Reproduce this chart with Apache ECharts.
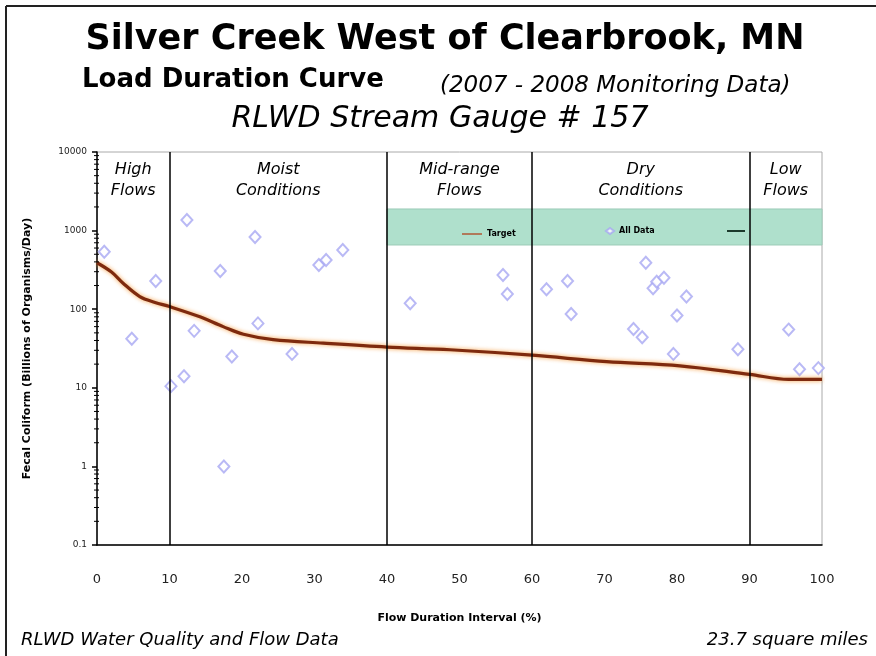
<!DOCTYPE html>
<html>
  <head>
    <meta charset="utf-8">
    <title>Silver Creek West of Clearbrook, MN</title>
    <script src="https://cdn.jsdelivr.net/npm/echarts@6/dist/echarts.min.js"></script>
    <style>
      html, body { margin: 0; padding: 0; background: #fff; }
      #chart { width: 876px; height: 656px; }
    </style>
  </head>
  <body>
    <div id="chart"></div>
    <script>
      // flow duration interval (%) / load (billions of organisms per day)
      var targetX = [0, 2, 3.6, 5.9, 8, 10, 14.2, 17.4, 20.2, 24.3, 31.2, 40, 48.7, 60, 70.3, 80.4, 90, 95.4, 100];
      var targetY = [390, 297, 214, 145, 122, 108, 80, 60, 48, 41, 37, 33, 30.5, 26, 21.5, 19, 14.8, 12.8, 12.8];

      var sampleX = [1.0, 4.8, 8.1, 10.2, 12.4, 12.0, 13.4, 17.0, 17.5, 18.6, 21.8, 22.2, 26.9, 30.6, 31.6, 33.9,
                     43.2, 56.0, 56.6, 62.0, 64.9, 65.4, 74.0, 75.2, 75.7, 76.7, 77.2, 78.2, 79.5, 80.0, 81.3,
                     88.4, 95.4, 96.9, 99.5];
      var sampleY = [537, 42, 229, 10.5, 1365, 14, 53, 307, 1.0, 25, 830, 66, 27, 365, 423, 565,
                     119, 272, 156, 179, 229, 87, 56, 44, 391, 185, 224, 251, 27, 83, 145,
                     31, 55, 17.2, 17.8];

      var zoneNames = ['High\nFlows', 'Moist\nConditions', 'Mid-range\nFlows', 'Dry\nConditions', 'Low\nFlows'];
      var zoneMid = [5, 25, 50, 75, 95];
      var zoneBreaks = [10, 40, 60, 90];
      var yTicks = [0.1, 1, 10, 100, 1000, 10000];
      var minorSteps = [2, 3, 4, 5, 6, 7, 8, 9];

      // minor tick positions on the log axis
      var minorTicks = [];
      yTicks.slice(0, -1).forEach(function (d) {
        minorSteps.forEach(function (s) { minorTicks.push([0, +(d * s).toPrecision(6)]); });
      });

      var chart = echarts.init(document.getElementById('chart'));
      var font = 'DejaVu Sans';
      var legendText = { fontSize: 8, fontWeight: 'bold', color: '#000' };

      var option = {
        animation: false,
        backgroundColor: '#fff',
        textStyle: { fontFamily: font },
        grid: { left: 97, right: 54, top: 152, bottom: 111, show: true, borderColor: '#aaa', borderWidth: 1 },
        legend: [
          { data: [{ name: 'Target', icon: 'rect', itemStyle: { color: '#b07a5a' } }], left: 457, top: 225,
            itemWidth: 20, itemHeight: 2, itemGap: 4, textStyle: legendText },
          { data: ['All Data'], left: 600, top: 222, itemWidth: 8, itemHeight: 6, itemGap: 4, textStyle: legendText },
          { data: [{ name: 'Trend', icon: 'rect' }], left: 722, top: 225, itemWidth: 18, itemHeight: 2,
            formatter: function () { return ''; } }
        ],
        xAxis: {
          type: 'value', min: 0, max: 100, interval: 10,
          name: 'Flow Duration Interval (%)', nameLocation: 'middle', nameGap: 68,
          nameTextStyle: { fontSize: 11, fontWeight: 'bold', color: '#000' },
          axisLine: { lineStyle: { color: '#000', width: 1.5 } },
          axisTick: { show: false },
          axisLabel: { margin: 28, fontSize: 13, color: '#222' },
          splitLine: { show: false }
        },
        yAxis: {
          type: 'log', logBase: 10, min: yTicks[0], max: yTicks[yTicks.length - 1],
          name: 'Fecal Coliform (Billions of Organisms/Day)', nameLocation: 'middle', nameGap: 64,
          nameTextStyle: { fontSize: 11, fontWeight: 'bold', color: '#000' },
          axisLine: { show: true, lineStyle: { color: '#000', width: 1.5 } },
          axisTick: { show: true, length: 5, lineStyle: { color: '#000', width: 1.5 } },
          axisLabel: { fontSize: 9, color: '#222', margin: 10,
            formatter: function (v) { return String(+v.toPrecision(6)); } },
          splitLine: { show: false }
        },
        series: [
          {
            name: 'Target', type: 'line', smooth: 0.35, symbol: 'none', z: 4,
            color: '#8a2a0c',
            lineStyle: { width: 3.2, color: '#7e2a0e', shadowColor: 'rgba(245,150,50,0.9)', shadowBlur: 4 },
            data: targetX.map(function (x, i) { return [x, targetY[i]]; }),
            markArea: {
              silent: true,
              itemStyle: { color: '#afe0cc', borderColor: '#9ccbb8', borderWidth: 1 },
              data: [[{ xAxis: 40, yAxis: 1884 }, { xAxis: 100, yAxis: 656 }]]
            },
            markLine: {
              silent: true, symbol: 'none', label: { show: false },
              lineStyle: { color: '#000', width: 1.5, type: 'solid' },
              data: zoneBreaks.map(function (b) { return { xAxis: b }; })
            }
          },
          {
            name: 'All Data', type: 'scatter', symbol: 'emptyDiamond', symbolSize: [11, 12], z: 3,
            itemStyle: { color: '#a8a8f2', borderWidth: 1 },
            data: sampleX.map(function (x, i) { return [x, sampleY[i]]; }),
            markPoint: {
              silent: true, symbol: 'circle', symbolSize: 0,
              label: { show: true, position: 'inside', fontFamily: font, fontStyle: 'italic',
                fontSize: 16, lineHeight: 21, color: '#000',
                formatter: function (p) { return p.name; } },
              data: zoneNames.map(function (n, i) { return { name: n, coord: [zoneMid[i], 4400] }; })
            }
          },
          {
            name: 'Trend', type: 'line', symbol: 'none', color: '#1c3a2c',
            lineStyle: { width: 2, color: '#1c3a2c' }, data: []
          },
          {
            type: 'custom', silent: true, z: 5, clip: false,
            renderItem: function (params, api) {
              var p = api.coord([api.value(0), api.value(1)]);
              return { type: 'line', shape: { x1: p[0] - 3, y1: p[1], x2: p[0] + 2, y2: p[1] },
                style: { stroke: '#000', lineWidth: 1 } };
            },
            data: minorTicks
          }
        ],
        graphic: [
          { type: 'line', shape: { x1: 6, y1: 6, x2: 876, y2: 6 }, style: { stroke: '#222', lineWidth: 2 } },
          { type: 'line', shape: { x1: 6, y1: 6, x2: 6, y2: 656 }, style: { stroke: '#222', lineWidth: 2 } },
          { type: 'text', x: 445, y: 40, style: { text: 'Silver Creek West of Clearbrook, MN', font: 'bold 35px ' + font,
            fill: '#000', textAlign: 'center', textVerticalAlign: 'middle' } },
          { type: 'text', x: 82, y: 80, style: { text: 'Load Duration Curve', font: 'bold 26px ' + font,
            fill: '#000', textAlign: 'left', textVerticalAlign: 'middle' } },
          { type: 'text', x: 440, y: 86, style: { text: '(2007 - 2008 Monitoring Data)', font: 'italic 23px ' + font,
            fill: '#000', textAlign: 'left', textVerticalAlign: 'middle' } },
          { type: 'text', x: 440, y: 119, style: { text: 'RLWD Stream Gauge # 157', font: 'italic 30px ' + font,
            fill: '#000', textAlign: 'center', textVerticalAlign: 'middle' } },
          { type: 'text', x: 21, y: 640, style: { text: 'RLWD Water Quality and Flow Data', font: 'italic 18px ' + font,
            fill: '#000', textAlign: 'left', textVerticalAlign: 'middle' } },
          { type: 'text', x: 868, y: 640, style: { text: '23.7 square miles', font: 'italic 18px ' + font,
            fill: '#000', textAlign: 'right', textVerticalAlign: 'middle' } }
        ]
      };
      chart.setOption(option);
    </script>
  </body>
</html>
